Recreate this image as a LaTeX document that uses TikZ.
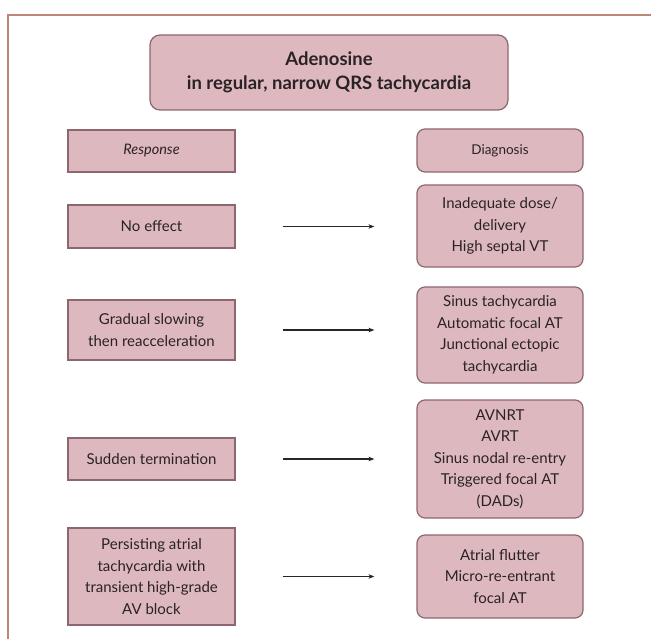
\documentclass[tikz,border=0pt]{standalone}
\usepackage{fontspec}
\setmainfont{Lato}
\usetikzlibrary{arrows.meta}
\definecolor{boxfill}{HTML}{DDB9BF}
\definecolor{boxline}{HTML}{8E6670}
\definecolor{frameline}{HTML}{BF8578}
\definecolor{txt}{HTML}{2A2224}
\begin{document}
\begin{tikzpicture}[x=1pt,y=-1pt,
  respbox/.style={draw=boxline,line width=1.2pt,fill=boxfill,inner sep=0pt,
    align=center,text=txt,font=\fontsize{15}{21.5}\selectfont},
  diagbox/.style={respbox,rounded corners=8pt},
  arr/.style={-{Stealth[length=6pt,width=4.5pt]},line width=1.1pt,draw=black!85}]
\useasboundingbox (0,0) rectangle (651,639);
\clip (0,0) rectangle (651,639);
\fill[white] (0,0) rectangle (651,639);
% outer frame
\draw[frameline,line width=1.6pt] (8,660) -- (8,15) -- (660,15);
% title
\node[diagbox,rounded corners=10pt,minimum width=358pt,minimum height=75pt,
  font=\bfseries\fontsize{18.5}{24}\selectfont] (title) at (329,72.5)
  {Adenosine\\in regular, narrow QRS tachycardia};
% column headers
\node[respbox,minimum width=167pt,minimum height=42pt,font=\itshape\fontsize{14.5}{18}\selectfont] (resp) at (151.5,151) {Response};
\node[diagbox,minimum width=166pt,minimum height=43pt,font=\fontsize{13.5}{18}\selectfont] (diag) at (500,150.5) {Diagnosis};
% responses
\node[respbox,minimum width=167pt,minimum height=43pt] (r1) at (151.5,226.5) {No effect};
\node[respbox,minimum width=167pt,minimum height=60pt] (r2) at (151.5,330) {Gradual slowing\\then reacceleration};
\node[respbox,minimum width=167pt,minimum height=42pt] (r3) at (151.5,459) {Sudden termination};
\node[respbox,minimum width=167pt,minimum height=97pt] (r4) at (151.5,576.5) {Persisting atrial\\tachycardia with\\transient high-grade\\AV block};
% diagnoses
\node[diagbox,minimum width=166pt,minimum height=82pt] (d1) at (500,226) {Inadequate dose/\\delivery\\High septal VT};
\node[diagbox,minimum width=166pt,minimum height=96pt] (d2) at (500,335) {Sinus tachycardia\\Automatic focal AT\\Junctional ectopic\\tachycardia};
\node[diagbox,minimum width=166pt,minimum height=118pt] (d3) at (500,459) {AVNRT\\AVRT\\Sinus nodal re-entry\\Triggered focal AT\\(DADs)};
\node[diagbox,minimum width=166pt,minimum height=83pt] (d4) at (500,576.5) {Atrial flutter\\Micro-re-entrant\\focal AT};
% arrows
\foreach \i in {1,...,4}{
  \coordinate (s\i) at ([xshift=47pt]r\i.east);
  \coordinate (e\i) at ([xshift=-42pt]d\i.west|-r\i.east);
  \draw[arr] (s\i) -- (e\i);
}
\end{tikzpicture}
\end{document}
